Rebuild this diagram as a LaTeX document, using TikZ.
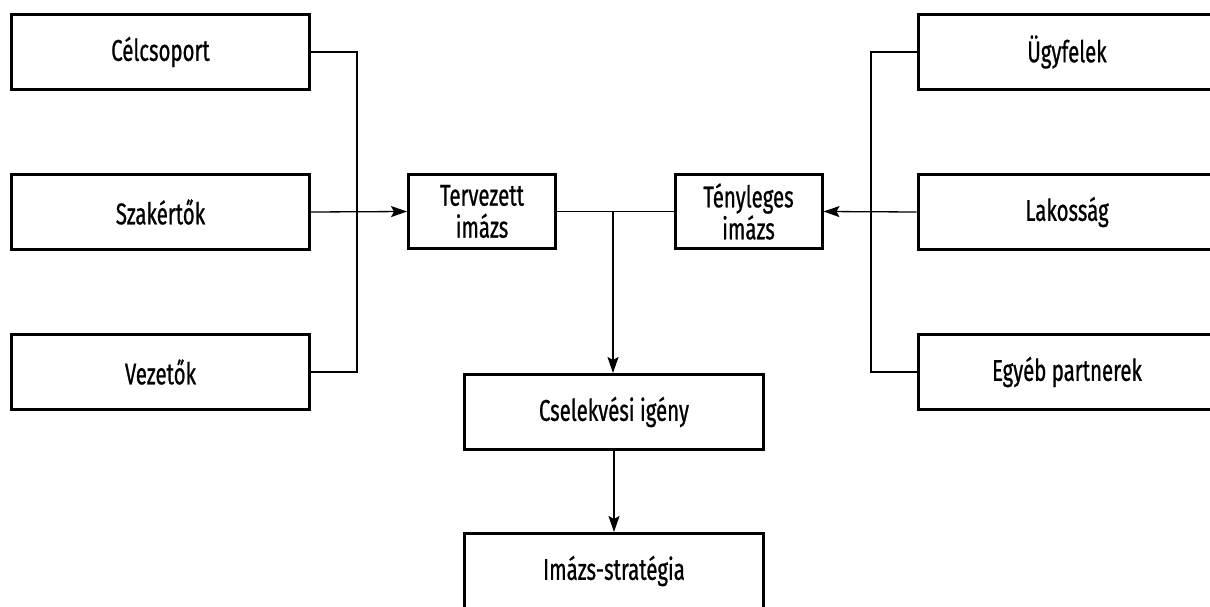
\documentclass[tikz,border=0pt]{standalone}
\usepackage{fontspec}
\setmainfont{Fira Sans}[FakeStretch=0.68, FakeBold=0.7]
\usetikzlibrary{arrows.meta}
\tikzset{
  box/.style={draw=black, line width=3pt, rectangle, inner sep=0pt, align=center,
    font=\fontsize{30}{32}\selectfont},
  wide/.style={box, minimum width=298pt, minimum height=75pt},
  mid/.style={box, minimum width=147pt, minimum height=74pt},
  conn/.style={draw=black, line width=1.3pt},
  arr/.style={conn, -{Stealth[length=16pt,width=11pt,inset=3pt]}},
}
\begin{document}
\begin{tikzpicture}[x=1pt,y=-1pt]
\useasboundingbox (0,0) rectangle (1210,607);
\clip (0,0) rectangle (1210,607);
\fill[white] (0,0) rectangle (1210,607);
% left column
\node[wide] (cel) at (160.5,52) {Célcsoport};
\node[wide] (sza) at (160.5,212) {Szakértők};
\node[wide] (vez) at (160.5,372) {Vezetők};
% right column
\node[wide] (ugy) at (1067,52) {Ügyfelek};
\node[wide] (lak) at (1067,212) {Lakosság};
\node[wide] (egy) at (1067,372) {Egyéb partnerek};
% middle
\node[mid] (ter) at (482,211.5) {Tervezett\\imázs};
\node[mid] (ten) at (748.5,211.5) {Tényleges\\imázs};
\node[box, minimum width=299pt, minimum height=75pt] (cse) at (614,412) {Cselekvési igény};
\node[box, minimum width=299pt, minimum height=75pt] (ima) at (614,571) {Imázs-stratégia};
% coordinates
\coordinate (lt) at (357,52);
\coordinate (lb) at (357,372);
\coordinate (rt) at (871,52);
\coordinate (rb) at (871,372);
\coordinate (j) at (613,212);
% connectors
\draw[conn] (cel.east) -- (lt) -- (lb) -- (vez.east);
\draw[arr] (sza.east) -- (ter.west);
\draw[conn] (ugy.west) -- (rt) -- (rb) -- (egy.west);
\draw[arr] (lak.west) -- (ten.east);
\draw[conn] (ter.east) -- (ten.west);
\draw[arr] (j) -- (j |- cse.north);
\draw[arr] (cse.south) -- (ima.north);
\end{tikzpicture}
\end{document}
